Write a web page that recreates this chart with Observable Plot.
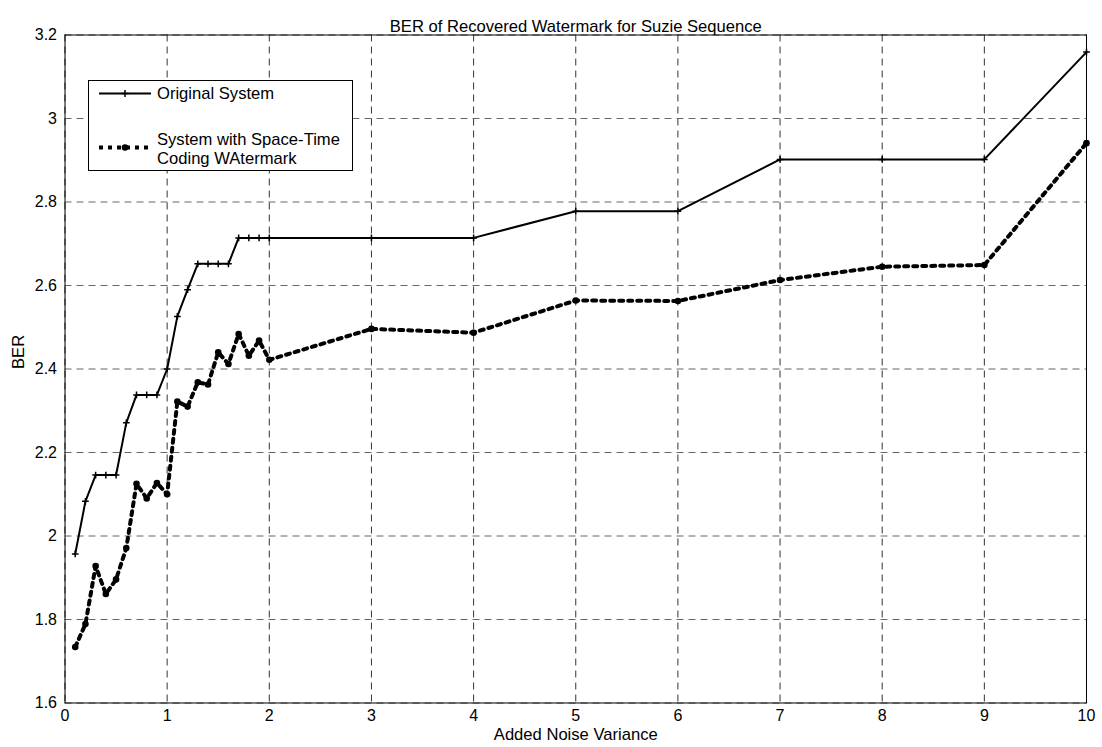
<!DOCTYPE html>
<html>
<head>
<meta charset="utf-8">
<script src="https://cdn.jsdelivr.net/npm/d3@7"></script>
<script src="https://cdn.jsdelivr.net/npm/@observablehq/plot@0.6"></script>
<style>
  body { margin: 0; background: #fff; font-family: Arial, "Liberation Sans", Helvetica, sans-serif; }
  #wrap { position: relative; width: 1102px; height: 747px; }
  #legend { position: absolute; left: 88px; top: 80px; width: 265px; height: 91px; box-sizing: border-box; border: 1px solid #000; background: #fff; }
  #legend svg { display: block; }
</style>
</head>
<body>
<div id="wrap"><div id="legend"></div></div>
<script>
// ---- data ----
const noiseVariance = [0.1,0.2,0.3,0.4,0.5,0.6,0.7,0.8,0.9,1.0,1.1,1.2,1.3,1.4,1.5,1.6,1.7,1.8,1.9,2.0,3,4,5,6,7,8,9,10];
const berOriginal = [1.957,2.083,2.146,2.146,2.146,2.271,2.338,2.338,2.338,2.400,2.526,2.590,2.652,2.652,2.652,2.652,2.714,2.714,2.714,2.714,2.714,2.714,2.778,2.778,2.902,2.902,2.902,3.159];
const berSpaceTime = [1.734,1.789,1.928,1.861,1.896,1.971,2.125,2.090,2.127,2.100,2.322,2.310,2.368,2.363,2.440,2.412,2.484,2.432,2.468,2.422,2.496,2.487,2.564,2.563,2.613,2.645,2.649,2.941];
const xTicks = [0,1,2,3,4,5,6,7,8,9,10];
const xTickLabels = ["0","1","2","3","4","5","6","7","8","9","10"];
const yTicks = [1.6,1.8,2.0,2.2,2.4,2.6,2.8,3.0,3.2];
const yTickLabels = ["1.6","1.8","2","2.2","2.4","2.6","2.8","3","3.2"];
const seriesNames = ["Original System", ["System with Space-Time", "Coding WAtermark"]];
const chartTitle = "BER of Recovered Watermark for Suzie Sequence";
const xTitle = "Added Noise Variance";
const yTitle = "BER";

const original = noiseVariance.map((x, i) => ({x, y: berOriginal[i]}));
const spaceTime = noiseVariance.map((x, i) => ({x, y: berSpaceTime[i]}));

const font = 'Arial, "Liberation Sans", Helvetica, sans-serif';

const chart = Plot.plot({
  width: 1102,
  height: 747,
  marginLeft: 64.5,
  marginRight: 16,
  marginTop: 34.5,
  marginBottom: 44.5,
  style: { fontFamily: font, fontSize: "16px", background: "white", color: "black", overflow: "visible" },
  x: { domain: [0, 10] },
  y: { domain: [1.6, 3.2] },
  marks: [
    Plot.gridX(xTicks, { stroke: "#333", strokeOpacity: 1, strokeDasharray: "7,5" }),
    Plot.gridY(yTicks, { stroke: "#666", strokeOpacity: 1, strokeDasharray: "7,5" }),
    Plot.frame({ stroke: "black", strokeWidth: 1 }),
    Plot.axisX(xTicks, { tickSize: 0, tickPadding: 7, tickFormat: d => xTickLabels[xTicks.indexOf(d)], label: null, fontSize: 16 }),
    Plot.axisY(yTicks, { tickSize: 0, tickPadding: 8, tickFormat: d => yTickLabels[yTicks.indexOf(d)], label: null, fontSize: 16 }),
    Plot.text([chartTitle], { frameAnchor: "top", dy: -15, fontSize: 16.6 }),
    Plot.text([xTitle], { frameAnchor: "bottom", dy: 37, fontSize: 16.6 }),
    Plot.text([yTitle], { frameAnchor: "left", dx: -46, rotate: -90, fontSize: 16.6 }),
    Plot.line(original, { x: "x", y: "y", stroke: "black", strokeWidth: 2 }),
    Plot.dot(original, { x: "x", y: "y", symbol: "plus", r: 2.3, stroke: "black", strokeWidth: 1.5 }),
    Plot.line(spaceTime, { x: "x", y: "y", stroke: "black", strokeWidth: 4, strokeDasharray: "4,5" }),
    Plot.dot(spaceTime, { x: "x", y: "y", r: 3.3, fill: "black", stroke: "none" })
  ]
});
document.getElementById("wrap").insertBefore(chart, document.getElementById("legend"));

// ---- legend ----
const lg = d3.select("#legend").append("svg").attr("width", 263).attr("height", 89)
  .style("font-family", font).style("font-size", "16.6px");
// entry 1
lg.append("line").attr("x1", 10).attr("x2", 62).attr("y1", 12.5).attr("y2", 12.5).attr("stroke", "black").attr("stroke-width", 2);
lg.append("path").attr("d", d3.symbol(d3.symbolPlus, 17)()).attr("transform", "translate(36,12.5)")
  .attr("fill", "none").attr("stroke", "black").attr("stroke-width", 1.5);
lg.append("text").attr("x", 68).attr("y", 12.5).attr("dy", "0.35em").text(seriesNames[0]);
// entry 2
lg.append("line").attr("x1", 10).attr("x2", 62).attr("y1", 66.5).attr("y2", 66.5).attr("stroke", "black").attr("stroke-width", 4).attr("stroke-dasharray", "4,5");
lg.append("circle").attr("cx", 36).attr("cy", 66.5).attr("r", 3.3).attr("fill", "black");
const t2 = lg.append("text").attr("x", 68);
seriesNames[1].forEach((s, i) => {
  t2.append("tspan").attr("x", 68).attr("y", 58 + i * 19.3).attr("dy", "0.35em").text(s);
});
</script>
</body>
</html>
